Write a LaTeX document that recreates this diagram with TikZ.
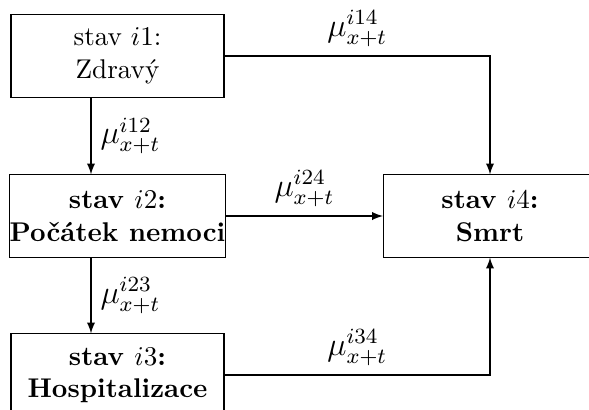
\documentclass[tikz,border=0pt]{standalone}
\usetikzlibrary{arrows}
\begin{document}
\begin{tikzpicture}[x=0.369pt,y=-0.369pt,
  box/.style={draw, align=center, inner sep=0pt, minimum width=78.6pt, minimum height=30.3pt},
  arr/.style={-latex},
  lab/.style={font=\large}]
\clip (0,0) rectangle (589,409);
\useasboundingbox (0,0) rectangle (589,409);
\node[box] (b1) at (117.5,56) {stav $i1$:\\Zdravý};
\node[box] (b2) at (117.5,216) {\textbf{stav $i2$:}\\\textbf{Počátek nemoci}};
\node[box] (b3) at (117.5,375) {\textbf{stav $i3$:}\\\textbf{Hospitalizace}};
\node[box] (b4) at (490,216) {\textbf{stav $i4$:}\\\textbf{Smrt}};
\coordinate (vx) at (91,0);
\draw[arr] (b1.south -| vx) -- node[lab, right] {$\mu_{x+t}^{i12}$} (b2.north -| vx);
\draw[arr] (b2.south -| vx) -- node[lab, right] {$\mu_{x+t}^{i23}$} (b3.north -| vx);
\draw[arr] (b1.east) -| node[lab, pos=0.25, above] {$\mu_{x+t}^{i14}$} (b4.north);
\draw[arr] (b2.east) -- node[lab, above] {$\mu_{x+t}^{i24}$} (b4.west);
\draw[arr] (b3.east) -| node[lab, pos=0.25, above] {$\mu_{x+t}^{i34}$} (b4.south);
\end{tikzpicture}
\end{document}
